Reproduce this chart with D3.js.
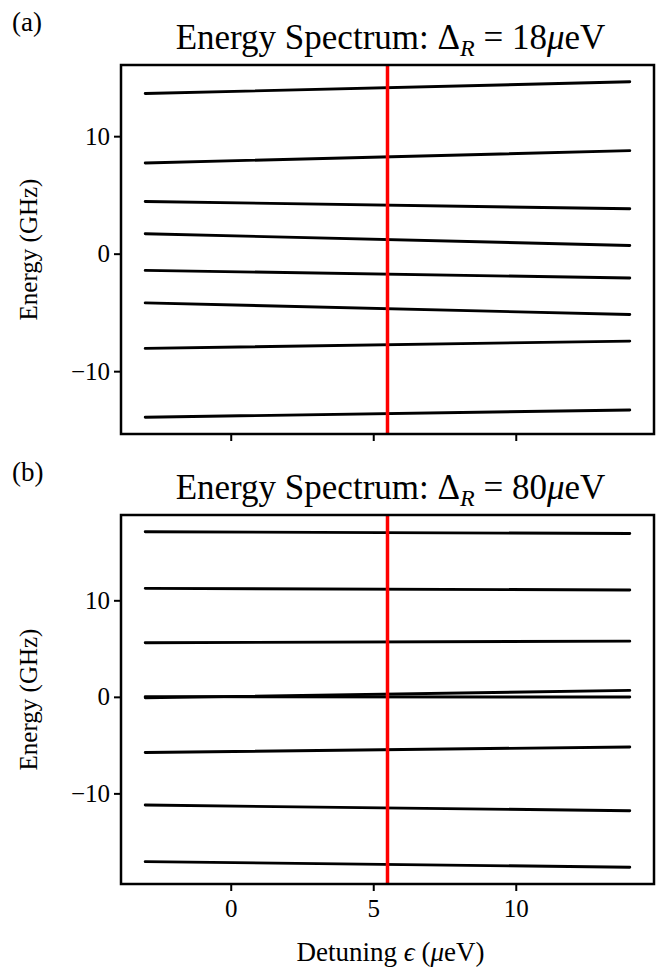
<!DOCTYPE html>
<html><head><meta charset="utf-8">
<script src="https://cdn.jsdelivr.net/npm/d3@7"></script>
<style>body{margin:0;background:#fff}svg{display:block}text{font-family:"Liberation Serif","DejaVu Serif",serif;fill:#000}</style>
</head><body>
<script>
// detuning endpoints (μeV)
const detuning = [-3, 14];
const markerEps = 5.5;
// panel (a) Δ_R = 18 μeV : energy levels (GHz) at left / right ends
const levelsA = [
  [13.63, 14.63], [7.72, 8.77], [4.44, 3.82], [1.70, 0.70],
  [-1.42, -2.07], [-4.19, -5.18], [-8.06, -7.44], [-13.92, -13.30]
];
// panel (b) Δ_R = 80 μeV
const levelsB = [
  [17.10, 16.92], [11.24, 11.07], [5.60, 5.77], [-0.10, 0.67],
  [0.02, -0.02], [-5.76, -5.19], [-11.21, -11.80], [-17.07, -17.65]
];
const xTicks = [0, 5, 10];
const yTicks = [-10, 0, 10];
const panels = [
  {label: "(a)", delta: "18", levels: levelsA, top: 65, bottom: 434, labelY: 31, titleY: 49},
  {label: "(b)", delta: "80", levels: levelsB, top: 515, bottom: 884, labelY: 481, titleY: 499}
];

const W = 669, H = 971, left = 121, right = 654;
const svg = d3.select("body").append("svg").attr("width", W).attr("height", H);

const xr = detuning[1] - detuning[0];
const x = d3.scaleLinear().domain([detuning[0] - 0.05 * xr, detuning[1] + 0.05 * xr]).range([left, right]);

panels.forEach((p, i) => {
  const all = p.levels.flat();
  const lo = d3.min(all), hi = d3.max(all), r = hi - lo;
  const y = d3.scaleLinear().domain([lo - 0.05 * r, hi + 0.05 * r]).range([p.bottom, p.top]);
  const g = svg.append("g");

  const line = d3.line().x(d => x(d[0])).y(d => y(d[1]));
  p.levels.forEach(lv => {
    g.append("path").datum(detuning.map((e, k) => [e, lv[k]]))
      .attr("d", line).attr("fill", "none").attr("stroke", "#000")
      .attr("stroke-width", 2.9).attr("stroke-linecap", "round");
  });
  g.append("line").attr("x1", x(markerEps)).attr("x2", x(markerEps))
    .attr("y1", p.top).attr("y2", p.bottom).attr("stroke", "#ff0000").attr("stroke-width", 3.5);

  // y axis
  const ya = g.append("g").attr("transform", `translate(${left},0)`)
    .call(d3.axisLeft(y).tickValues(yTicks).tickSize(7).tickPadding(4).tickFormat(d => d < 0 ? "\u2212" + Math.abs(d) : d));
  ya.select(".domain").remove();
  ya.selectAll("line").attr("stroke-width", 2);
  ya.selectAll("text").attr("font-size", 25).attr("font-family", "Liberation Serif");

  // x axis
  const xa = g.append("g").attr("transform", `translate(0,${p.bottom})`)
    .call(d3.axisBottom(x).tickValues(xTicks).tickSize(7).tickPadding(8).tickFormat(i === 1 ? d => d : () => ""));
  xa.select(".domain").remove();
  xa.selectAll("line").attr("stroke-width", 2);
  xa.selectAll("text").attr("font-size", 25).attr("font-family", "Liberation Serif");

  // frame
  g.append("rect").attr("x", left).attr("y", p.top).attr("width", right - left).attr("height", p.bottom - p.top)
    .attr("fill", "none").attr("stroke", "#000").attr("stroke-width", 2.5);

  // y label
  g.append("text").attr("transform", `translate(37,${(p.top + p.bottom) / 2}) rotate(-90)`)
    .attr("text-anchor", "middle").attr("font-size", 25).text("Energy (GHz)");

  // panel label
  g.append("text").attr("x", 12).attr("y", p.labelY).attr("font-size", 27).text(p.label);

  // title
  const t = g.append("text").attr("x", (left + right) / 2 + 3).attr("y", p.titleY)
    .attr("text-anchor", "middle").attr("font-size", 35);
  t.append("tspan").text("Energy Spectrum: \u0394");
  t.append("tspan").attr("font-style", "italic").attr("font-size", 24).attr("dy", 7).text("R");
  t.append("tspan").attr("dy", -7).text(" = " + p.delta);
  t.append("tspan").attr("font-style", "italic").text("\u03bc");
  t.append("tspan").text("eV");
});

svg.append("text").attr("x", (left + right) / 2 + 3).attr("y", 961).attr("text-anchor", "middle")
  .attr("font-size", 27)
  .call(s => {
    s.append("tspan").text("Detuning ");
    s.append("tspan").attr("font-style", "italic").text("\u03f5");
    s.append("tspan").text(" (");
    s.append("tspan").attr("font-style", "italic").text("\u03bc");
    s.append("tspan").text("eV)");
  });
</script>
</body></html>
